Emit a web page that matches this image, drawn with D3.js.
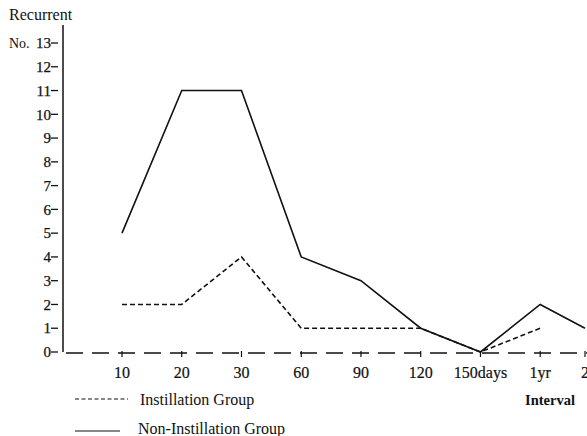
<!DOCTYPE html>
<html><head><meta charset="utf-8">
<script src="https://cdn.jsdelivr.net/npm/d3@7"></script>
<style>html,body{margin:0;padding:0;background:#fff;}svg{display:block;font-family:"Liberation Serif","Times New Roman",serif;}</style>
</head><body>
<script>
const categories = ["10","20","30","60","90","120","150days","1yr","2"];
const catPos = [0,1,2,3,4,5,6,7,7.75];
const instillation = [2,2,4,1,1,1,0,1,null];
const nonInstillation = [5,11,11,4,3,1,0,2,1];
const yTicks = [0,1,2,3,4,5,6,7,8,9,10,11,12,13];

const W=587,H=436;
const svg=d3.select("body").append("svg").attr("width",W).attr("height",H);
const x=d3.scaleLinear().domain([0,7.75]).range([122,585]);
const y=d3.scaleLinear().domain([0,13]).range([352,43]);
const ink="#111";

// y axis
svg.append("line").attr("x1",63).attr("x2",63).attr("y1",25).attr("y2",352).attr("stroke",ink).attr("stroke-width",1.5);
const yt=svg.append("g");
yTicks.forEach(t=>{
  yt.append("text").attr("x",51).attr("y",y(t)).attr("dy","0.35em").attr("text-anchor","end")
    .attr("font-size",15).attr("fill",ink).attr("stroke",ink).attr("stroke-width",0.25).text(t);
  yt.append("line").attr("x1",51).attr("x2",58).attr("y1",y(t)).attr("y2",y(t)).attr("stroke",ink).attr("stroke-width",1.3);
});
svg.append("text").attr("x",9).attr("y",20).attr("font-size",16).attr("fill",ink).text("Recurrent");
svg.append("text").attr("x",9).attr("y",y(13)).attr("dy","0.35em").attr("font-size",14).attr("fill",ink).text("No.");

// x axis
svg.append("line").attr("x1",66).attr("x2",W).attr("y1",353).attr("y2",353).attr("stroke",ink).attr("stroke-width",1.4).attr("stroke-dasharray","17,9");
categories.forEach((c,i)=>{
  svg.append("line").attr("x1",x(catPos[i])).attr("x2",x(catPos[i])).attr("y1",351).attr("y2",357).attr("stroke",ink).attr("stroke-width",1.2);
  svg.append("text").attr("x",x(catPos[i])).attr("y",372).attr("dy","0.35em").attr("text-anchor","middle")
    .attr("font-size",16).attr("fill",ink).attr("stroke",ink).attr("stroke-width",0.2).text(c);
});

// lines
const pts=(arr)=>arr.map((v,i)=>[catPos[i],v]).filter(d=>d[1]!==null);
const line=d3.line().x(d=>x(d[0])).y(d=>y(d[1]));
svg.append("path").attr("d",line(pts(nonInstillation))).attr("fill","none").attr("stroke",ink).attr("stroke-width",1.6);
svg.append("path").attr("d",line(pts(instillation))).attr("fill","none").attr("stroke",ink).attr("stroke-width",1.6).attr("stroke-dasharray","5,3");

// legend
svg.append("line").attr("x1",75).attr("x2",128).attr("y1",399).attr("y2",399).attr("stroke",ink).attr("stroke-width",1.2).attr("stroke-dasharray","4,2.5");
svg.append("text").attr("x",140).attr("y",399).attr("dy","0.35em").attr("font-size",16).attr("fill",ink).text("Instillation Group");
svg.append("line").attr("x1",75).attr("x2",120).attr("y1",431).attr("y2",431).attr("stroke",ink).attr("stroke-width",1.2);
svg.append("text").attr("x",138).attr("y",428).attr("dy","0.35em").attr("font-size",16).attr("fill",ink).text("Non-Instillation Group");
svg.append("text").attr("x",525).attr("y",400).attr("dy","0.35em").attr("font-size",14.5).attr("font-weight","bold").attr("fill",ink).text("Interval");
</script>
</body></html>
